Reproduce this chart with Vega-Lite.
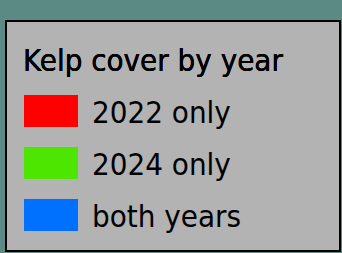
{
  "$schema": "https://vega.github.io/schema/vega-lite/v6.json",
  "width": 334,
  "height": 230,
  "autosize": "none",
  "padding": {"left": 6, "top": 21, "right": 2, "bottom": 2},
  "background": "#5b8a85",
  "config": {
    "view": {"stroke": "#000000", "strokeWidth": 2, "fill": "#b3b3b3"},
    "text": {"font": "DejaVu Sans Condensed, DejaVu Sans, sans-serif", "fontSize": 31, "color": "#000000"}
  },
  "data": {
    "values": [
      {"label": "2022 only", "row": 1},
      {"label": "2024 only", "row": 2},
      {"label": "both years", "row": 3}
    ]
  },
  "layer": [
    {
      "mark": {"type": "point", "shape": "M-1,-0.5926H1V0.5926H-1Z", "size": 2916, "filled": true, "opacity": 1, "strokeWidth": 0},
      "encoding": {
        "x": {"datum": 45, "type": "quantitative", "scale": {"domain": [0, 334], "nice": false, "zero": false}, "axis": null},
        "y": {"field": "row", "type": "quantitative", "scale": {"domain": [-0.7308, 3.6923], "nice": false, "zero": false, "reverse": true}, "axis": null},
        "color": {"field": "label", "type": "nominal", "scale": {"domain": ["2022 only", "2024 only", "both years"], "range": ["#ff0000", "#4ce600", "#0070ff"]}, "legend": null}
      }
    },
    {
      "mark": {"type": "text", "align": "left", "baseline": "middle", "dy": 3},
      "encoding": {
        "x": {"datum": 86, "type": "quantitative"},
        "y": {"field": "row", "type": "quantitative"},
        "text": {"field": "label"}
      }
    },
    {
      "mark": {"type": "text", "align": "left", "baseline": "middle", "dy": 3, "text": "Kelp cover by year"},
      "encoding": {
        "x": {"datum": 17, "type": "quantitative"},
        "y": {"datum": 0, "type": "quantitative"}
      }
    }
  ]
}
